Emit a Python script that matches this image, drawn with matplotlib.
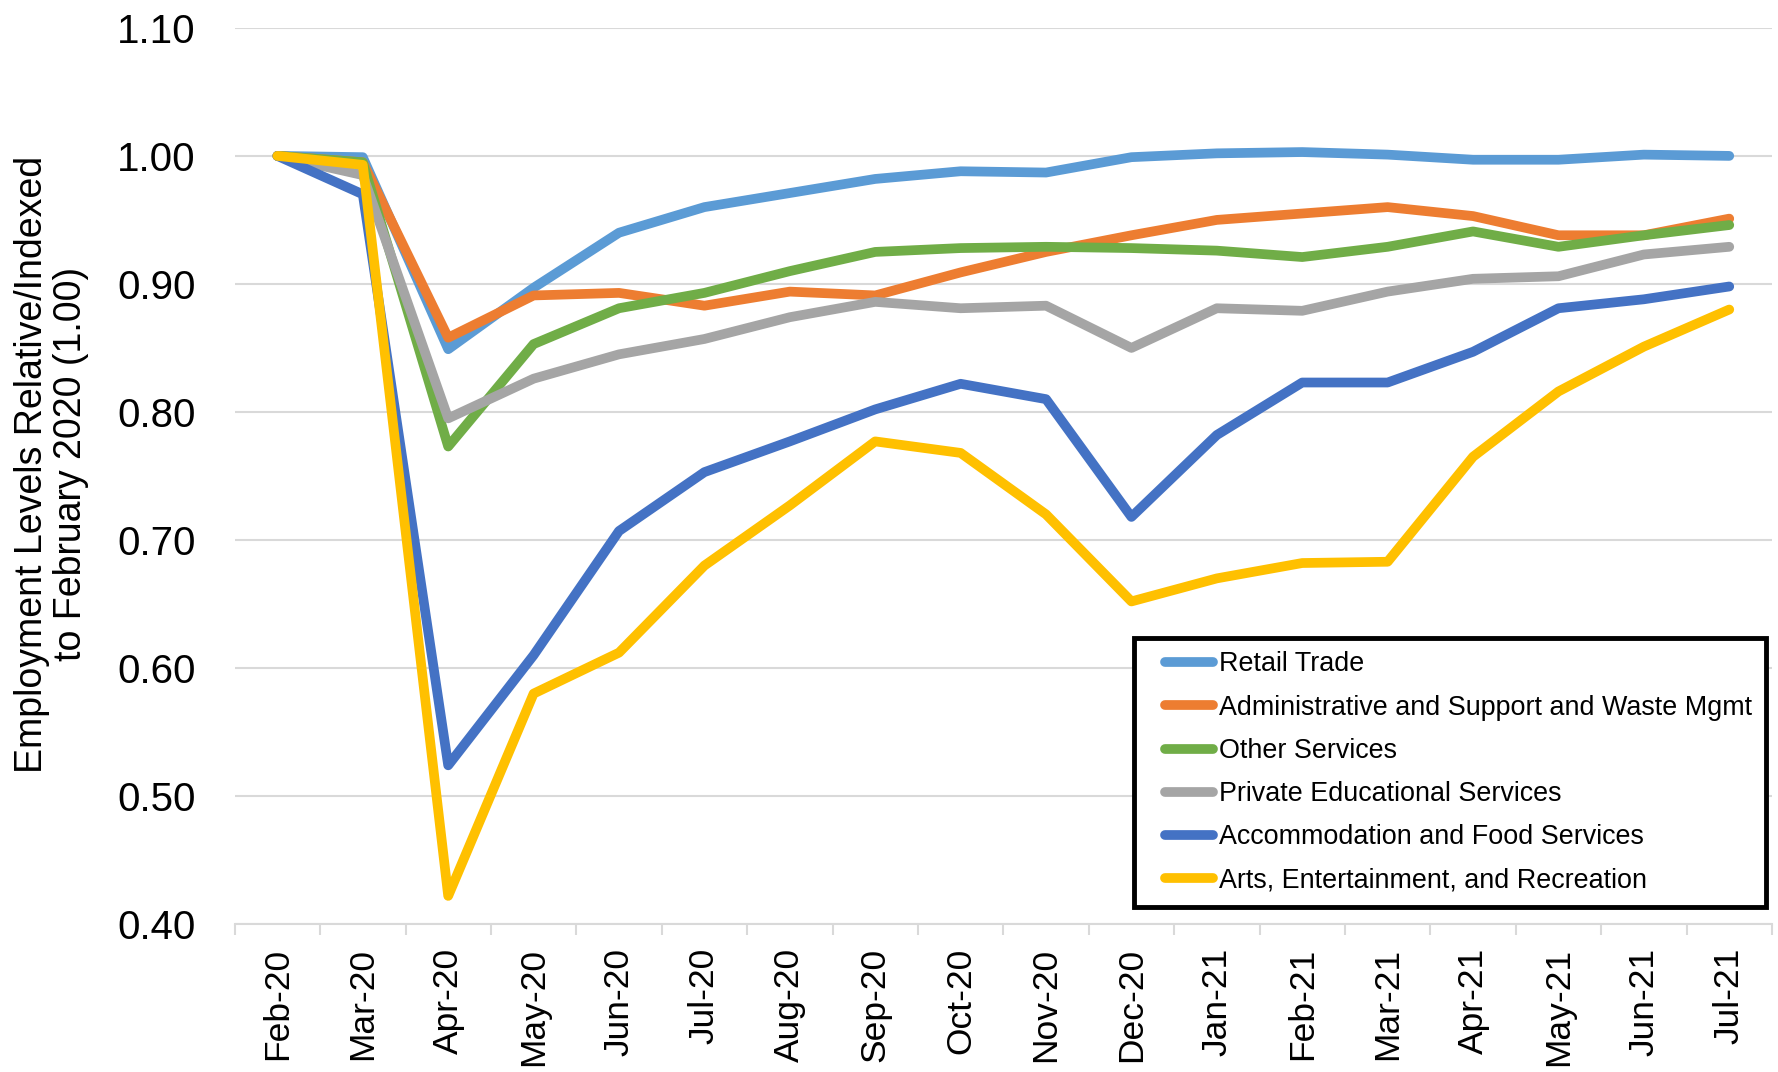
import matplotlib
matplotlib.use("Agg")
import matplotlib.pyplot as plt
from matplotlib.lines import Line2D
from matplotlib.legend_handler import HandlerLine2D
import numpy as np

plt.rcParams['font.family'] = ['Liberation Sans', 'DejaVu Sans']

months = ["Feb-20", "Mar-20", "Apr-20", "May-20", "Jun-20", "Jul-20", "Aug-20", "Sep-20", "Oct-20",
          "Nov-20", "Dec-20", "Jan-21", "Feb-21", "Mar-21", "Apr-21", "May-21", "Jun-21", "Jul-21"]

retail = [1.000, 0.999, 0.849, 0.897, 0.940, 0.960, 0.971, 0.982, 0.988,
          0.987, 0.999, 1.002, 1.003, 1.001, 0.997, 0.997, 1.001, 1.000]
admin = [1.000, 0.995, 0.858, 0.891, 0.893, 0.883, 0.894, 0.891, 0.909,
         0.925, 0.938, 0.950, 0.955, 0.960, 0.953, 0.938, 0.938, 0.951]
other = [1.000, 0.995, 0.773, 0.853, 0.881, 0.893, 0.910, 0.925, 0.928,
         0.929, 0.928, 0.926, 0.921, 0.929, 0.941, 0.929, 0.938, 0.946]
private_ed = [1.000, 0.985, 0.795, 0.826, 0.845, 0.857, 0.874, 0.886, 0.881,
              0.883, 0.850, 0.881, 0.879, 0.894, 0.904, 0.906, 0.923, 0.929]
accommodation = [1.000, 0.970, 0.524, 0.610, 0.707, 0.753, 0.777, 0.802, 0.822,
                 0.810, 0.718, 0.782, 0.823, 0.823, 0.847, 0.881, 0.888, 0.898]
arts = [1.000, 0.993, 0.422, 0.580, 0.612, 0.680, 0.727, 0.777, 0.768,
        0.720, 0.652, 0.670, 0.682, 0.683, 0.765, 0.816, 0.851, 0.880]

series = [
    ("Retail Trade", retail, "#5B9BD5"),
    ("Administrative and Support and Waste Mgmt", admin, "#ED7D31"),
    ("Other Services", other, "#70AD47"),
    ("Private Educational Services", private_ed, "#A5A5A5"),
    ("Accommodation and Food Services", accommodation, "#4472C4"),
    ("Arts, Entertainment, and Recreation", arts, "#FFC000"),
]

fig = plt.figure(figsize=(17.78, 10.72), dpi=100)
ax = fig.add_axes([0.132, 0.138, 0.8646, 0.836])

x = np.arange(len(months))
for name, vals, color in series:
    ax.plot(x, vals, color=color, lw=7, label=name,
            solid_capstyle='round', solid_joinstyle='round')

ax.set_ylim(0.40, 1.10)
ax.set_yticks(np.arange(0.40, 1.101, 0.10))
ax.set_yticklabels([f"{v:.2f}" for v in np.arange(0.40, 1.101, 0.10)])
ax.set_xlim(-0.5, len(months) - 0.5)
ax.set_xticks(x)
ax.set_xticklabels(months, rotation=90)
ax.set_xticks(np.arange(-0.5, len(months)), minor=True)

ax.grid(axis='y', color='#D9D9D9', lw=1.5)
ax.set_axisbelow(True)
for s in ['left', 'right', 'top']:
    ax.spines[s].set_visible(False)
ax.spines['bottom'].set_color('#D9D9D9')
ax.spines['bottom'].set_linewidth(1.5)

ax.tick_params(axis='y', length=0, pad=28, labelsize=29)
ax.tick_params(axis='x', which='major', length=0, pad=17, labelsize=25.5)
ax.tick_params(axis='x', which='minor', length=8, width=1.5, color='#D9D9D9')

fig.text(0.029, 0.567, "Employment Levels Relative/Indexed\nto February 2020 (1.00)",
         rotation=90, ha='center', va='center', fontsize=27, linespacing=1.1)

# legend box sits in the lower right, handles indented a bit like the original
leg = ax.legend(loc='upper left', bbox_to_anchor=(1134 / 1778, 1 - 638 / 1072),
                bbox_transform=fig.transFigure, borderaxespad=0, fontsize=19.4,
                frameon=True, fancybox=False, edgecolor='black', framealpha=1,
                handlelength=2.42, handletextpad=0.25, labelspacing=0.64, borderpad=0.5,
                handler_map={Line2D: HandlerLine2D(xpad=0.65)})
leg.get_frame().set_linewidth(3.5)
for line in leg.get_lines():
    line.set_linewidth(7)
    line.set_solid_capstyle('round')

fig.savefig("out.png", dpi=100)
